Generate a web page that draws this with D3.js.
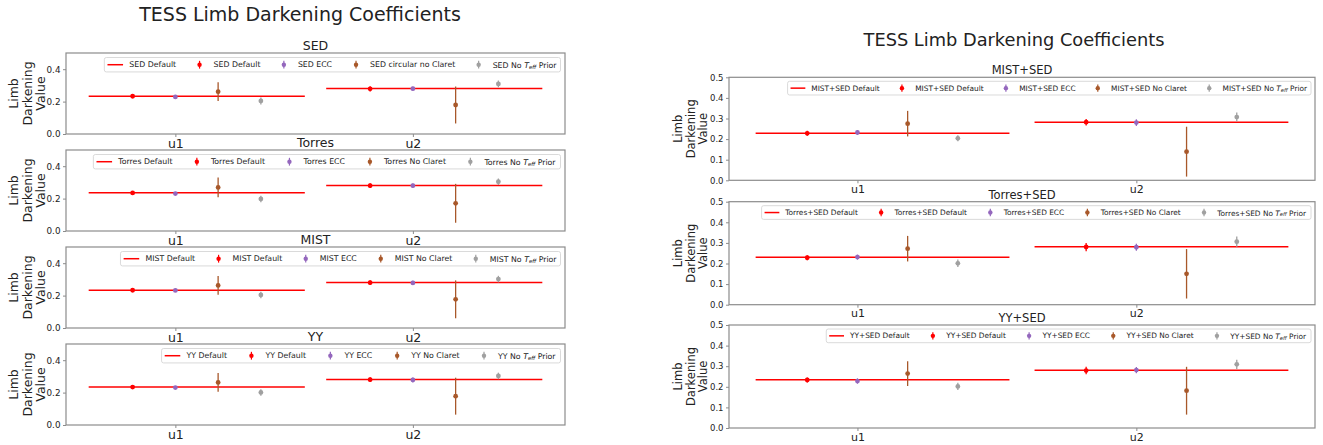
<!DOCTYPE html>
<html><head><meta charset="utf-8">
<script src="https://cdn.jsdelivr.net/npm/d3@7"></script>
<style>
body{margin:0;background:#fff}
svg{display:block}
text{font-family:"DejaVu Sans",sans-serif;fill:#222}
</style>
</head><body>
<svg id="chart" width="1323" height="445"></svg>
<script>
// ---------------- data ----------------
const coeffs = ["u1", "u2"];
const variantColors = ["#ff0000", "#9467bd", "#a8582a", "#a0a0a0"];
const pointOffsets = [-0.18, 0, 0.18, 0.36];   // category offsets of the 4 fits
const lineSpan = [-0.365, 0.545];              // extent of the "Default" reference line

const leftTitle = "TESS Limb Darkening Coefficients";
const rightTitle = "TESS Limb Darkening Coefficients";
const leftModels = ["SED", "Torres", "MIST", "YY"];
const rightModels = ["MIST+SED", "Torres+SED", "YY+SED"];
const leftClaretLabels = ["circular no Claret", "No Claret", "No Claret", "No Claret"];
const rightClaretLabels = ["No Claret", "No Claret", "No Claret"];
const leftYTicks = [0, 0.2, 0.4];
const rightYTicks = [0, 0.1, 0.2, 0.3, 0.4, 0.5];

// default reference line per model: [u1, u2]
const leftDefaultLine = [[0.233, 0.281], [0.236, 0.281], [0.233, 0.281], [0.234, 0.281]];
const rightDefaultLine = [[0.229, 0.282], [0.230, 0.281], [0.234, 0.280]];

// values per model -> [u1 fits, u2 fits]; fits order: Default, ECC, No Claret, No Teff Prior
const leftValues = [
  [[0.233, 0.229, 0.261, 0.204], [0.279, 0.280, 0.179, 0.309]],
  [[0.235, 0.231, 0.269, 0.198], [0.280, 0.280, 0.171, 0.304]],
  [[0.233, 0.232, 0.263, 0.204], [0.280, 0.278, 0.177, 0.302]],
  [[0.234, 0.231, 0.263, 0.201], [0.280, 0.278, 0.178, 0.303]]
];
const leftErrors = [
  [[0.010, 0.009, 0.058, 0.022], [0.016, 0.012, 0.114, 0.021]],
  [[0.010, 0.010, 0.061, 0.020], [0.015, 0.013, 0.120, 0.020]],
  [[0.010, 0.010, 0.058, 0.020], [0.015, 0.013, 0.117, 0.020]],
  [[0.010, 0.010, 0.058, 0.020], [0.015, 0.015, 0.114, 0.020]]
];
const rightValues = [
  [[0.228, 0.232, 0.275, 0.204], [0.282, 0.280, 0.139, 0.307]],
  [[0.228, 0.231, 0.272, 0.201], [0.280, 0.279, 0.150, 0.306]],
  [[0.233, 0.228, 0.264, 0.202], [0.279, 0.281, 0.181, 0.309]]
];
const rightErrors = [
  [[0.012, 0.011, 0.062, 0.015], [0.016, 0.016, 0.121, 0.022]],
  [[0.012, 0.012, 0.062, 0.018], [0.020, 0.017, 0.120, 0.025]],
  [[0.012, 0.013, 0.060, 0.018], [0.018, 0.015, 0.116, 0.022]]
];

// ---------------- drawing ----------------
const svg = d3.select("#chart");

function legendLabel(textSel, model, kind, claretLabel) {
  if (kind === 3) {
    textSel.append("tspan").text(model + " No ");
    textSel.append("tspan").attr("font-style", "italic").text("T");
    textSel.append("tspan").attr("font-style", "italic").attr("font-size", "70%")
      .attr("dy", "0.35em").text("eff");
    textSel.append("tspan").attr("dy", "-0.245em").text(" Prior");
  } else {
    const suffix = kind === 0 ? "Default" : kind === 1 ? "ECC" : claretLabel;
    textSel.text(model + " " + suffix);
  }
}

function drawFigure(cfg) {
  const fig = svg.append("g");
  fig.append("text")
    .attr("x", cfg.titleX).attr("y", cfg.titleY)
    .attr("text-anchor", "middle").attr("font-size", cfg.fsSup)
    .text(cfg.title);

  const x = d3.scaleLinear().range([cfg.x0, cfg.x1]);
  const xmin = lineSpan[0], xmax = (coeffs.length - 1) + lineSpan[1];
  const m = (xmax - xmin) * 0.05;
  x.domain([xmin - m, xmax + m]);

  cfg.models.forEach((model, pi) => {
    const top = cfg.tops[pi], bottom = top + cfg.h;
    const y = d3.scaleLinear().domain([0, 0.5]).range([bottom, top]);
    const g = fig.append("g");

    // axes frame
    g.append("rect").attr("x", cfg.x0).attr("y", top)
      .attr("width", cfg.x1 - cfg.x0).attr("height", cfg.h)
      .attr("fill", "none").attr("stroke", "#8c8c8c").attr("stroke-width", 1.2);

    // y axis
    const yAxis = d3.axisLeft(y).tickValues(cfg.yTicks).tickFormat(d3.format(".1f"))
      .tickSize(3).tickPadding(2.5);
    const ya = g.append("g").attr("transform", `translate(${cfg.x0},0)`).call(yAxis);
    ya.select(".domain").remove();
    ya.selectAll("line").attr("stroke", "#8c8c8c");
    ya.selectAll("text").attr("font-size", cfg.fsTick).attr("fill", "#222")
      .attr("font-family", "DejaVu Sans");

    // x axis
    const xAxis = d3.axisBottom(x).tickValues(coeffs.map((c, i) => i))
      .tickFormat(i => coeffs[i]).tickSize(3).tickPadding(cfg.xPad);
    const xa = g.append("g").attr("transform", `translate(0,${bottom})`).call(xAxis);
    xa.select(".domain").remove();
    xa.selectAll("line").attr("stroke", "#8c8c8c");
    xa.selectAll("text").attr("font-size", cfg.fsX).attr("fill", "#222")
      .attr("font-family", "DejaVu Sans");

    // panel title
    g.append("text").attr("x", (cfg.x0 + cfg.x1) / 2).attr("y", top - 3)
      .attr("text-anchor", "middle").attr("font-size", cfg.fsTitle).text(model);

    // y label
    ["Limb", "Darkening", "Value"].forEach((t, li) => {
      const lx = cfg.ylabX[li], ly = (top + bottom) / 2;
      g.append("text").attr("transform", `translate(${lx},${ly}) rotate(-90)`)
        .attr("text-anchor", "middle").attr("dominant-baseline", "central")
        .attr("font-size", cfg.fsYlab).text(t);
    });

    // default reference lines
    coeffs.forEach((c, ci) => {
      g.append("line")
        .attr("x1", x(ci + lineSpan[0])).attr("x2", x(ci + lineSpan[1]))
        .attr("y1", y(cfg.lines[pi][ci])).attr("y2", y(cfg.lines[pi][ci]))
        .attr("stroke", "#ff0000").attr("stroke-width", 1.5);
    });

    // error bar points
    coeffs.forEach((c, ci) => {
      cfg.values[pi][ci].forEach((v, vi) => {
        const e = cfg.errors[pi][ci][vi];
        const px = x(ci + pointOffsets[vi]);
        g.append("line").attr("x1", px).attr("x2", px)
          .attr("y1", y(v - e)).attr("y2", y(v + e))
          .attr("stroke", variantColors[vi]).attr("stroke-width", 1.3);
        g.append("circle").attr("cx", px).attr("cy", y(v)).attr("r", 2.4)
          .attr("fill", variantColors[vi]);
      });
    });

    // legend (matplotlib-like single row, upper right)
    const fs = cfg.fsLeg;
    const lg = g.append("g");
    const bg = lg.append("rect");
    const items = [0, 0, 1, 2, 3].map((kind, k) => {
      const t = lg.append("text").attr("font-size", fs);
      legendLabel(t, model, kind, cfg.claret[pi]);
      return {kind, k, t, w: t.node().getBBox().width};
    });
    const hl = 2 * fs, htp = 0.8 * fs, cs = 2 * fs, bp = 0.4 * fs;
    const total = 2 * bp + d3.sum(items, d => hl + htp + d.w) + cs * (items.length - 1);
    const lh = 1.85 * fs;
    const lx0 = cfg.x1 - cfg.legGap - total, ly0 = top + cfg.legGap;
    bg.attr("x", lx0).attr("y", ly0).attr("width", total).attr("height", lh)
      .attr("rx", 2).attr("fill", "#fff").attr("fill-opacity", 0.8)
      .attr("stroke", "#d0d0d0").attr("stroke-width", 0.8);
    let cx = lx0 + bp;
    const cy = ly0 + lh / 2;
    items.forEach(it => {
      if (it.k === 0) {
        lg.append("line").attr("x1", cx).attr("x2", cx + hl).attr("y1", cy).attr("y2", cy)
          .attr("stroke", "#ff0000").attr("stroke-width", 1.5);
      } else {
        const col = variantColors[it.kind];
        const hx = cx + hl / 2;
        lg.append("line").attr("x1", hx).attr("x2", hx).attr("y1", cy - 0.5 * fs).attr("y2", cy + 0.5 * fs)
          .attr("stroke", col).attr("stroke-width", 1.2);
        lg.append("circle").attr("cx", hx).attr("cy", cy).attr("r", 2.2).attr("fill", col);
      }
      it.t.attr("x", cx + hl + htp).attr("y", cy).attr("dominant-baseline", "central");
      cx += hl + htp + it.w + cs;
    });
  });
}

drawFigure({
  title: leftTitle, titleX: 300, titleY: 21, fsSup: 19,
  models: leftModels, claret: leftClaretLabels, lines: leftDefaultLine,
  values: leftValues, errors: leftErrors, yTicks: leftYTicks,
  x0: 66, x1: 565, tops: [53, 150, 247, 344], h: 81,
  fsTick: 8.8, fsX: 12.5, xPad: 2, fsTitle: 12.5, fsLeg: 7.8, fsYlab: 12.5,
  ylabX: [13, 27, 40], legGap: 4.5
});

drawFigure({
  title: rightTitle, titleX: 1014, titleY: 46, fsSup: 17.8,
  models: rightModels, claret: rightClaretLabels, lines: rightDefaultLine,
  values: rightValues, errors: rightErrors, yTicks: rightYTicks,
  x0: 729, x1: 1315, tops: [77.3, 201.7, 325], h: 103,
  fsTick: 8.5, fsX: 11, xPad: 2, fsTitle: 11.5, fsLeg: 7.4, fsYlab: 11.5,
  ylabX: [678, 690.5, 703], legGap: 4
});
</script>
</body></html>
